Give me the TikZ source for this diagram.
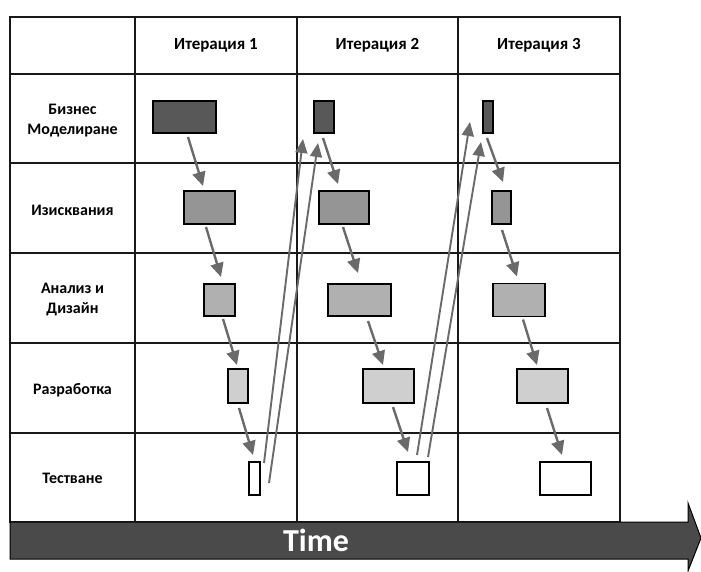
\documentclass[tikz,border=0pt]{standalone}
\usepackage{fontspec}
\setmainfont{Carlito}
\usetikzlibrary{arrows.meta}
\definecolor{cbiz}{HTML}{585858}
\definecolor{creq}{HTML}{959595}
\definecolor{cana}{HTML}{B0B0B0}
\definecolor{cdev}{HTML}{CFCFCF}
\definecolor{carrow}{HTML}{6A6A6A}
\definecolor{cbar}{HTML}{4A4A4A}
\begin{document}
\begin{tikzpicture}[x=1pt,y=-1pt,
  grid/.style={line width=1.6pt, draw=black!90},
  box/.style={draw=black, line width=1.5pt, inner sep=0pt, outer sep=0pt},
  lab/.style={font=\bfseries\fontsize{16}{20}\selectfont, align=center, inner sep=0pt},
  hlab/.style={font=\bfseries\fontsize{17}{20}\selectfont, align=center, inner sep=0pt},
  flow/.style={draw=carrow, line width=2.4pt, -{Triangle[length=14pt,width=13pt]}},
  back/.style={draw=carrow, line width=1.9pt, -{Triangle[length=14pt,width=12pt]}},
  timebar/.style={draw=black, line width=1pt, fill=cbar},
  timelab/.style={font=\bfseries\fontsize{32}{34}\selectfont, text=white, inner sep=0pt}]
\useasboundingbox (0,0) rectangle (701,572);
% table
\draw[grid] (10,17) rectangle (620,522);
\foreach \x in {135,297,458} \draw[grid] (\x,17) -- (\x,522);
\foreach \y in {74,163,253,343,433} \draw[grid] (10,\y) -- (620,\y);
% header labels
\node[hlab] (h1) at (216,45) {Итерация 1};
\node[hlab] (h2) at (377.5,45) {Итерация 2};
\node[hlab] (h3) at (539,45) {Итерация 3};
% row labels
\node[lab] (l1) at (72.5,121) {Бизнес\\Моделиране};
\node[lab] (l2) at (72.5,210) {Изисквания};
\node[lab] (l3) at (72.5,300) {Анализ и\\Дизайн};
\node[lab] (l4) at (72.5,390) {Разработка};
\node[lab] (l5) at (72.5,478) {Тестване};
% iteration 1 boxes
\node[box, fill=cbiz, minimum width=63pt, minimum height=32pt] (b1) at (184.5,117) {};
\node[box, fill=creq, minimum width=51pt, minimum height=33pt] (r1) at (209.5,207.5) {};
\node[box, fill=cana, minimum width=31pt, minimum height=32pt] (a1) at (219.5,300) {};
\node[box, fill=cdev, minimum width=20pt, minimum height=34pt] (d1) at (238,386) {};
\node[box, fill=white, minimum width=11pt, minimum height=33pt] (t1) at (254.5,478.5) {};
% iteration 2 boxes
\node[box, fill=cbiz, minimum width=20pt, minimum height=32pt] (b2) at (324,117) {};
\node[box, fill=creq, minimum width=50pt, minimum height=33pt] (r2) at (344,207.5) {};
\node[box, fill=cana, minimum width=63pt, minimum height=32pt] (a2) at (359.5,300) {};
\node[box, fill=cdev, minimum width=51pt, minimum height=34pt] (d2) at (388.5,386) {};
\node[box, fill=white, minimum width=32pt, minimum height=33pt] (t2) at (413,478.5) {};
% iteration 3 boxes
\node[box, fill=cbiz, minimum width=10pt, minimum height=32pt] (b3) at (488,117) {};
\node[box, fill=creq, minimum width=19pt, minimum height=33pt] (r3) at (501.5,207.5) {};
\node[box, fill=cana, minimum width=52pt, minimum height=33pt] (a3) at (519,300) {};
\node[box, fill=cdev, minimum width=51pt, minimum height=34pt] (d3) at (542.5,386) {};
\node[box, fill=white, minimum width=51pt, minimum height=33pt] (t3) at (565.5,478.5) {};
% flow arrows, iteration 1
\draw[flow] ([xshift=3.5pt,yshift=-4pt]b1.south) -- ([xshift=-6.5pt,yshift=5pt]r1.north);
\draw[flow] ([xshift=-3.5pt,yshift=-3pt]r1.south) -- ([xshift=1.5pt,yshift=7pt]a1.north);
\draw[flow] ([xshift=3.5pt,yshift=-3pt]a1.south) -- ([xshift=-1pt,yshift=4pt]d1.north);
\draw[flow] ([xshift=1pt,yshift=-5pt]d1.south) -- ([xshift=-1.5pt,yshift=7pt]t1.north);
% iteration 2
\draw[flow] ([xshift=-1pt,yshift=-5pt]b2.south) -- ([xshift=-6pt,yshift=7pt]r2.north);
\draw[flow] ([xshift=-1pt,yshift=-3pt]r2.south) -- ([xshift=-1.5pt,yshift=11pt]a2.north);
\draw[flow] ([xshift=8.5pt,yshift=-5pt]a2.south) -- ([xshift=-5.5pt,yshift=4pt]d2.north);
\draw[flow] ([xshift=4.5pt,yshift=-4pt]d2.south) -- ([xshift=-5pt,yshift=10pt]t2.north);
% iteration 3
\draw[flow] ([xshift=-1pt,yshift=-5pt]b3.south) -- ([xshift=1.5pt,yshift=9pt]r3.north);
\draw[flow] ([xshift=0.5pt,yshift=-6pt]r3.south) -- ([xshift=-2pt,yshift=7pt]a3.north);
\draw[flow] ([xshift=4pt,yshift=-3pt]a3.south) -- ([xshift=-5.5pt,yshift=4pt]d3.north);
\draw[flow] ([xshift=4.5pt,yshift=-5pt]d3.south) -- ([xshift=-3.5pt,yshift=7pt]t3.north);
% feedback arrows
\draw[back] ([xshift=4pt,yshift=-1pt]t1.north east) -- ([xshift=-11pt,yshift=-6pt]b2.south west);
\draw[back] ([xshift=9pt,yshift=-4.5pt]t1.east) -- ([xshift=4pt,yshift=-10pt]b2.south west);
\draw[back] ([xshift=4pt,yshift=7pt]t2.north) -- ([xshift=-13pt,yshift=-5pt]b3.west);
\draw[back] ([xshift=15pt,yshift=5pt]t2.north) -- ([xshift=-2pt,yshift=-9pt]b3.south west);
% time arrow
\draw[timebar] (10,522) -- (688,522) -- (688,503) -- (701,538) -- (688,571) -- (688,559) -- (10,559) -- cycle;
\node[timelab] (time) at (316,540) {Time};
\end{tikzpicture}
\end{document}
